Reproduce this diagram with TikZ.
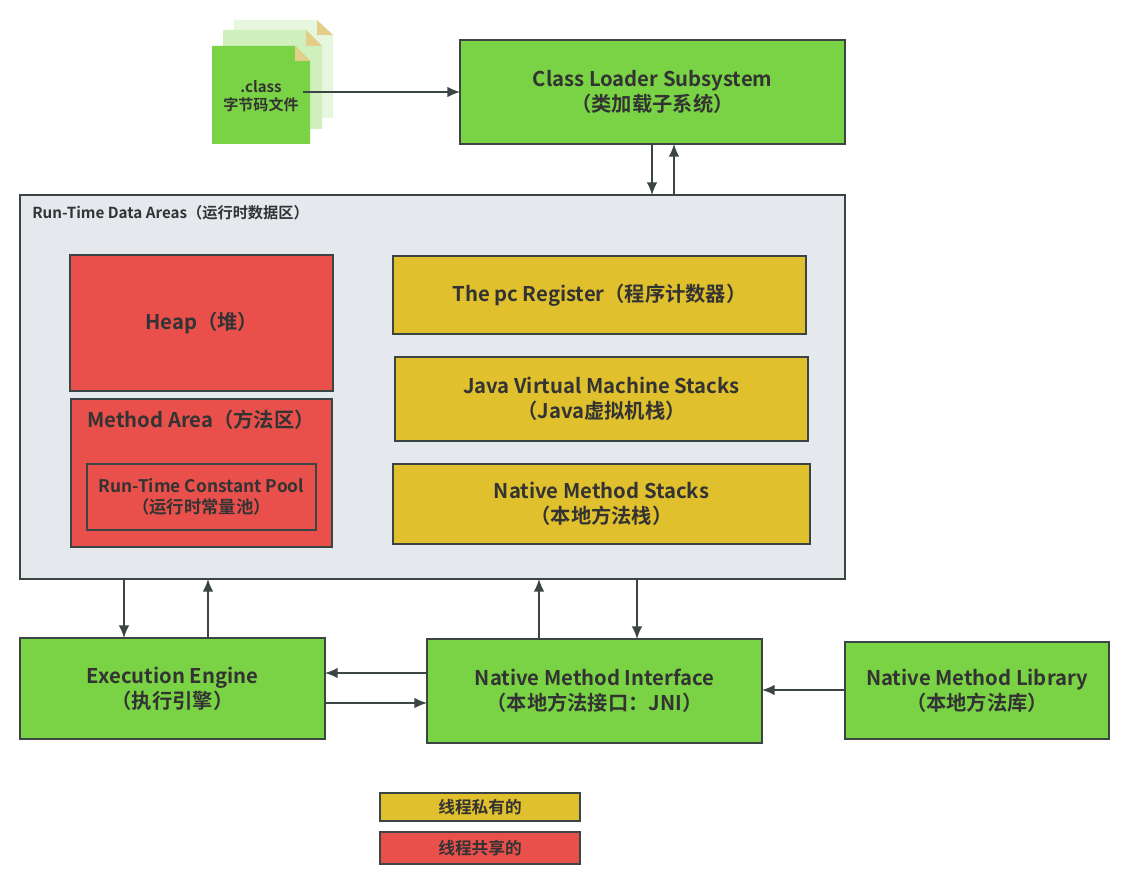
\documentclass[tikz,border=0pt]{standalone}
\usepackage{fontspec}
\setmainfont{Noto Sans CJK SC}[BoldFont={Noto Sans CJK SC Bold}]
\usetikzlibrary{arrows.meta}
\definecolor{gr}{HTML}{79D344}
\definecolor{rd}{HTML}{E9504C}
\definecolor{yl}{HTML}{E0C02D}
\definecolor{ar}{HTML}{E5E9ED}
\definecolor{ln}{HTML}{3A4544}
\definecolor{tx}{HTML}{333333}
\definecolor{fold}{HTML}{E5CE8A}
\newcommand{\fnt}[2]{\bfseries\fontsize{#1}{#2}\selectfont}
\tikzset{
 x=0.75pt,y=-0.75pt,
 sz/.style 2 args={minimum width=#1*0.75pt,minimum height=#2*0.75pt},
 boxn/.style={draw=ln,line width=1.3pt,outer sep=0pt,anchor=north west,inner sep=0pt,align=center,text=tx,font=\fnt{15.2}{19}},
 grbox/.style={boxn,fill=gr},
 rdbox/.style={boxn,fill=rd},
 ylbox/.style={boxn,fill=yl},
 conn/.style={draw=ln,line width=1.2pt,-{Latex[length=9.5pt,width=8pt]}},
 legend/.style={font=\fnt{12.5}{14}},
}
\begin{document}
\begin{tikzpicture}
\useasboundingbox (0,0) rectangle (1126,884);
% class file stack
\fill[gr!18!white] (234,20) -- (317,20) -- (333,35) -- (333,118) -- (234,118) -- cycle;
\fill[fold] (317,20) -- (333,35) -- (317,35) -- cycle;
\fill[gr!36!white] (223,30) -- (306,30) -- (322,46) -- (322,129) -- (223,129) -- cycle;
\fill[fold] (306,30) -- (322,46) -- (306,46) -- cycle;
\fill[gr] (212,46) -- (295,46) -- (310,61) -- (310,144) -- (212,144) -- cycle;
\fill[fold] (295,46) -- (310,61) -- (295,61) -- cycle;
\node[align=center,text=tx,font=\fnt{11.3}{14}] (cf) at (261,96) {.class\\字节码文件};
\coordinate (cfout) at (303,92);

\node[grbox,sz={385}{104}] (cl) at (460,40) {Class Loader Subsystem\\（类加载子系统）};

\node[boxn,fill=ar,sz={825}{384}] (rt) at (20,195) {};
\node[anchor=west,inner sep=0pt,text=tx,font=\fnt{11.4}{13}] (rtl) at (32,213) {Run-Time Data Areas（运行时数据区）};

\node[rdbox,sz={263}{136}] (hp) at (70,255) {Heap（堆）};
\node[rdbox,sz={261}{148}] (ma) at (71,399) {};
\node[text=tx,font=\fnt{15.2}{19}] (mal) at (201,420) {Method Area（方法区）};
\node[boxn,fill=rd,sz={229}{66},font=\fnt{13}{16}] (rc) at (87,464) {Run-Time Constant Pool\\（运行时常量池）};

\node[ylbox,sz={413}{78}] (pc) at (393,256) {The pc Register（程序计数器）};
\node[ylbox,sz={413}{84}] (jv) at (395,357) {Java Virtual Machine Stacks\\（Java虚拟机栈）};
\node[ylbox,sz={417}{80}] (ns) at (393,464) {Native Method Stacks\\（本地方法栈）};

\node[grbox,sz={305}{101}] (ee) at (20,638) {Execution Engine\\（执行引擎）};
\node[grbox,sz={335}{104}] (ni) at (427,639) {Native Method Interface\\（本地方法接口：JNI）};
\node[grbox,sz={264}{97}] (nl) at (845,642) {Native Method Library\\（本地方法库）};

\node[boxn,fill=yl,sz={200}{28},legend] (ly) at (380,793) {线程私有的};
\node[boxn,fill=rd,sz={200}{32},legend] (lr) at (380,832) {线程共享的};

\draw[conn] (cfout) -- (cfout -| cl.west);
\draw[conn] (652,0 |- cl.south) -- (652,0 |- rt.north);
\draw[conn] (674,0 |- rt.north) -- (674,0 |- cl.south);
\draw[conn] (124,0 |- rt.south) -- (124,0 |- ee.north);
\draw[conn] (208,0 |- ee.north) -- (208,0 |- rt.south);
\draw[conn] (539,0 |- ni.north) -- (539,0 |- rt.south);
\draw[conn] (637,0 |- rt.south) -- (637,0 |- ni.north);
\draw[conn] (ni.west |- 0,673) -- (ee.east |- 0,673);
\draw[conn] (ee.east |- 0,703) -- (ni.west |- 0,703);
\draw[conn] (nl.west |- 0,690) -- (ni.east |- 0,690);
\end{tikzpicture}
\end{document}
